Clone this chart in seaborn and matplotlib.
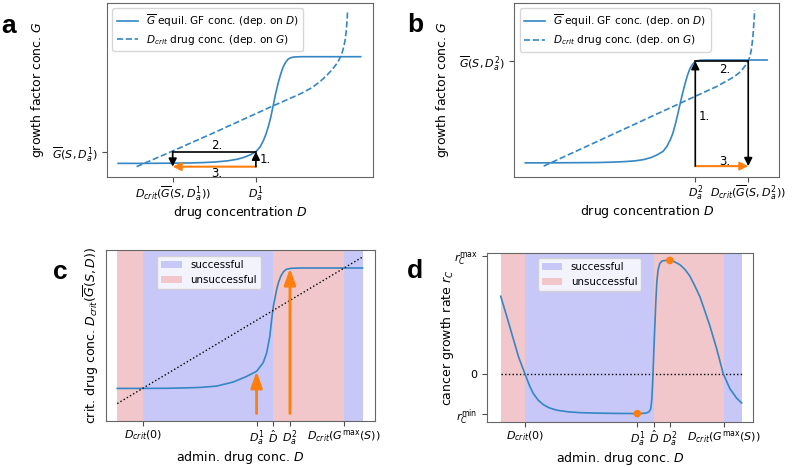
import numpy as np
import pandas as pd
import matplotlib
matplotlib.use("Agg")
import matplotlib.pyplot as plt
import seaborn as sns
from matplotlib.patches import Patch

# ---------------- data ----------------
# panel a : equilibrium GF concentration G(D) and critical drug conc. Dcrit(G)
a_D = [0, 1.0, 2.0, 3.0, 3.5, 4.0, 4.5, 4.9, 5.2, 5.45, 5.68, 5.85, 6.0, 6.1, 6.2,
       6.3, 6.4, 6.5, 6.6, 6.7, 6.8, 6.9, 7.0, 7.1, 7.25, 7.5, 10.0]
a_G = [0.21, 0.21, 0.22, 0.24, 0.26, 0.30, 0.37, 0.47, 0.60, 0.76, 0.96, 1.25, 1.70, 2.10, 2.60,
       3.20, 3.95, 4.70, 5.35, 5.90, 6.35, 6.65, 6.85, 6.95, 7.00, 7.02, 7.02]
a_crit_D = [0.76, 2.25, 4.0, 6.37, 7.5, 8.0, 8.32, 8.6, 8.87, 9.0, 9.1, 9.18, 9.25, 9.31,
            9.36, 9.40, 9.43, 9.45, 9.46]
a_crit_G = [0.0, 1.0, 2.2, 3.87, 4.64, 5.05, 5.43, 5.82, 6.28, 6.55, 6.80, 7.05, 7.35, 7.70,
            8.10, 8.60, 9.15, 9.60, 10.0]
a_Da1 = 5.68
a_G1 = 0.96
a_Dc1 = 2.25

# panel b
b_D = [0, 1.0, 2.0, 3.0, 3.5, 4.0, 4.5, 4.9, 5.2, 5.45, 5.7, 5.85, 6.0, 6.1, 6.2,
       6.3, 6.4, 6.5, 6.6, 6.7, 6.8, 6.9, 7.0, 7.1, 7.25, 7.5, 10.0]
b_G = [0.21, 0.21, 0.22, 0.23, 0.25, 0.28, 0.33, 0.42, 0.55, 0.72, 0.95, 1.25, 1.70, 2.10, 2.65,
       3.30, 3.98, 4.65, 5.25, 5.80, 6.22, 6.50, 6.68, 6.76, 6.80, 6.81, 6.81]
b_crit_D = [0.76, 3.0, 5.0, 6.41, 7.93, 8.62, 8.85, 9.0, 9.12, 9.22, 9.29, 9.34, 9.38, 9.42,
            9.45, 9.47, 9.48]
b_crit_G = [0.0, 1.60, 3.03, 4.04, 5.12, 5.72, 6.0, 6.25, 6.5, 6.75, 7.05, 7.4, 7.85, 8.45,
            9.1, 9.6, 10.0]
b_Da2 = 7.03
b_G2 = 6.74
b_Dc2 = 9.22

# panel c : Dcrit(G(S,D)) versus administered drug concentration
c_D = [0, 2.0, 3.0, 3.37, 4.05, 4.73, 5.27, 5.68, 5.95, 6.09, 6.22, 6.3, 6.36, 6.43, 6.5,
       6.58, 6.67, 6.78, 6.9, 7.1, 7.45, 10.0]
c_crit = [1.03, 1.04, 1.08, 1.10, 1.19, 1.47, 1.85, 2.20, 2.79, 3.45, 4.60, 5.80, 6.60, 7.20, 7.80,
          8.30, 8.70, 9.00, 9.17, 9.23, 9.25, 9.25]
c_diag = [0, 10]
c_edges = [0, 1.06, 6.36, 9.25, 10]
c_xticks = [1.06, 5.68, 6.36, 7.04, 9.25]
c_arrow_x = [5.68, 7.04]
c_arrow_top = [2.2, 9.22]
c_arrow_base = -0.68

# panel d : cancer growth rate
d_D = [0, 0.25, 0.52, 0.75, 1.01, 1.2, 1.35, 1.55, 1.77, 2.0, 2.32, 2.8, 3.29, 4.0, 4.67, 5.64,
       5.9, 6.05, 6.15, 6.22, 6.26, 6.29, 6.33, 6.37, 6.40, 6.44, 6.48, 6.53, 6.6, 6.7, 6.85,
       7.02, 7.2, 7.44, 7.65, 7.85, 8.05, 8.27, 8.48, 8.68, 8.96, 9.24, 9.51, 9.79, 10.0]
d_r = [0.659, 0.49, 0.30, 0.14, 0.0, -0.10, -0.164, -0.22, -0.259, -0.285, -0.306, -0.32, -0.327,
       -0.331, -0.333, -0.335, -0.333, -0.33, -0.32, -0.30, -0.24, -0.15, 0.05, 0.27, 0.42, 0.62,
       0.78, 0.88, 0.935, 0.958, 0.962, 0.962, 0.952, 0.926, 0.885, 0.83, 0.75, 0.654, 0.53,
       0.409, 0.217, 0.0, -0.123, -0.204, -0.245]
d_edges = [0, 1.01, 6.35, 9.27, 10]
d_xticks = [1.01, 5.67, 6.35, 7.02, 9.27]
d_dots_x = [5.67, 7.02]
d_dots_y = [-0.335, 0.962]
d_yticks = [1.0, 0.0, -0.335]
d_yticklabels = [r"$r_C^{\mathrm{max}}$", "0", r"$r_C^{\mathrm{min}}$"]

span_kinds = ["unsuccessful", "successful", "unsuccessful", "successful"]
cd_xticklabels = [r"$D_{crit}(0)$", r"$D_a^1$", r"$\hat{D}$", r"$D_a^2$",
                  r"$D_{crit}(G^{\mathrm{max}}(S))$"]

# ---------------- styling ----------------
BLUE = "#3586c4"
ORANGE = "#ff7f0e"
SPAN = {"successful": "#c8c8f8", "unsuccessful": "#f1c7cb"}
TICK_FS = 8
LAB_FS = 9
LEG_FS_AB = 7.6
LEG_FS_CD = 7.4

plt.rcParams["axes.edgecolor"] = "0.4"
plt.rcParams["xtick.color"] = "0.3"
plt.rcParams["ytick.color"] = "0.3"
plt.rcParams["xtick.labelcolor"] = "black"
plt.rcParams["ytick.labelcolor"] = "black"
plt.rcParams["xtick.major.pad"] = 1.5

fig = plt.figure(figsize=(8, 4.67), dpi=100)
axA = fig.add_axes([0.134, 0.6203, 0.332, 0.374])
axB = fig.add_axes([0.643, 0.6216, 0.331, 0.372])
axC = fig.add_axes([0.1325, 0.0979, 0.336, 0.3668])
axD = fig.add_axes([0.609, 0.0964, 0.3325, 0.3618])


def arrow(ax, x0, y0, x1, y1, color, lw, ms, hl, hw, z=3):
    ax.annotate("", xy=(x1, y1), xytext=(x0, y0),
                arrowprops=dict(arrowstyle=f"-|>,head_length={hl},head_width={hw}",
                                color=color, lw=lw, shrinkA=0, shrinkB=0,
                                mutation_scale=ms), zorder=z)


lbl_G = r"$\overline{G}$ equil. GF conc. (dep. on $D$)"
lbl_C = r"$D_{crit}$ drug conc. (dep. on $G$)"

# ---- panel a
sns.lineplot(x=a_D, y=a_G, ax=axA, color=BLUE, lw=1.2, sort=False, estimator=None, label=lbl_G)
sns.lineplot(x=a_crit_D, y=a_crit_G, ax=axA, color=BLUE, lw=1.2, linestyle="--", sort=False,
             estimator=None, label=lbl_C)
arrow(axA, a_Da1, 0, a_Dc1, 0, ORANGE, 1.5, 8, 0.6, 0.3)
axA.plot([a_Da1, a_Dc1], [a_G1, a_G1], color="k", lw=1.2, zorder=3)
arrow(axA, a_Da1, 0, a_Da1, a_G1, "k", 1.2, 8, 0.6, 0.3, z=4)
arrow(axA, a_Dc1, a_G1, a_Dc1, 0, "k", 1.2, 8, 0.6, 0.3, z=4)
axA.text(5.85, 0.43, "1.", ha="left", va="center", fontsize=8.5)
axA.text(4.06, 1.32, "2.", ha="center", va="center", fontsize=8.5)
axA.text(4.06, -0.43, "3.", ha="center", va="center", fontsize=8.5)
axA.set_xticks([a_Dc1, a_Da1])
axA.set_xticklabels([r"$D_{crit}(\overline{G}(S,D_a^1))$", r"$D_a^1$"], fontsize=TICK_FS)
axA.set_yticks([a_G1])
axA.set_yticklabels([r"$\overline{G}(S,D_a^1)$"], fontsize=TICK_FS)
axA.set_xlim(-0.45, 10.5)
axA.set_ylim(-0.68, 10.47)
axA.legend(loc="upper left", fontsize=LEG_FS_AB, labelspacing=0.4)

# ---- panel b
sns.lineplot(x=b_D, y=b_G, ax=axB, color=BLUE, lw=1.2, sort=False, estimator=None, label=lbl_G)
sns.lineplot(x=b_crit_D, y=b_crit_G, ax=axB, color=BLUE, lw=1.2, linestyle="--", sort=False,
             estimator=None, label=lbl_C)
arrow(axB, b_Da2, 0, b_Dc2, 0, ORANGE, 1.5, 8, 0.6, 0.3)
axB.plot([b_Da2, b_Dc2], [b_G2, b_G2], color="k", lw=1.2, zorder=3)
arrow(axB, b_Da2, 0, b_Da2, b_G2, "k", 1.2, 8, 0.6, 0.3, z=4)
arrow(axB, b_Dc2, b_G2, b_Dc2, 0, "k", 1.2, 8, 0.6, 0.3, z=4)
axB.text(7.17, 3.19, "1.", ha="left", va="center", fontsize=8.5)
axB.text(8.23, 6.23, "2.", ha="center", va="center", fontsize=8.5)
axB.text(8.23, 0.32, "3.", ha="center", va="center", fontsize=8.5)
axB.set_xticks([b_Da2, b_Dc2])
axB.set_xticklabels([r"$D_a^2$", r"$D_{crit}(\overline{G}(S,D_a^2))$"], fontsize=TICK_FS)
axB.set_yticks([b_G2])
axB.set_yticklabels([r"$\overline{G}(S,D_a^2)$"], fontsize=TICK_FS)
axB.set_xlim(-0.45, 10.5)
axB.set_ylim(-0.68, 10.47)
axB.legend(loc="upper left", fontsize=LEG_FS_AB, labelspacing=0.4)

for ax, ylx in ((axA, -0.23), (axB, -0.239)):
    ax.set_xlabel(r"drug concentration $D$", fontsize=LAB_FS)
    ax.set_ylabel(r"growth factor conc. $G$", fontsize=LAB_FS)
    ax.xaxis.set_label_coords(0.5, -0.15)
    ax.yaxis.set_label_coords(ylx, 0.5)

# ---- panel c
for i, kind in enumerate(span_kinds):
    axC.axvspan(c_edges[i], c_edges[i + 1], color=SPAN[kind], lw=0, zorder=0)
sns.lineplot(x=c_D, y=c_crit, ax=axC, color=BLUE, lw=1.2, sort=False, estimator=None)
sns.lineplot(x=c_diag, y=c_diag, ax=axC, color="k", lw=1.0, linestyle=":", sort=False,
             estimator=None)
for x, top in zip(c_arrow_x, c_arrow_top):
    arrow(axC, x, c_arrow_base, x, top, ORANGE, 2.0, 14, 0.7, 0.25)
axC.set_xticks(c_xticks)
axC.set_xticklabels(cd_xticklabels, fontsize=TICK_FS)
axC.set_yticks([])
axC.set_xlim(-0.46, 10.5)
axC.set_ylim(-1.21, 10.48)
axC.set_xlabel(r"admin. drug conc. $D$", fontsize=LAB_FS)
axC.set_ylabel(r"crit. drug conc. $D_{crit}(\overline{G}(S,D))$", fontsize=LAB_FS)
axC.xaxis.set_label_coords(0.5, -0.162)
axC.yaxis.set_label_coords(-0.02, 0.5)

# ---- panel d
for i, kind in enumerate(span_kinds):
    axD.axvspan(d_edges[i], d_edges[i + 1], color=SPAN[kind], lw=0, zorder=0)
sns.lineplot(x=[d_D[0], d_D[-1]], y=[0, 0], ax=axD, color="k", lw=1.0, linestyle=":",
             sort=False, estimator=None)
sns.lineplot(x=d_D, y=d_r, ax=axD, color=BLUE, lw=1.2, sort=False, estimator=None)
sns.scatterplot(x=d_dots_x, y=d_dots_y, ax=axD, color=ORANGE, s=30, edgecolor="none", zorder=5)
axD.set_xticks(d_xticks)
axD.set_xticklabels(cd_xticklabels, fontsize=TICK_FS)
axD.set_yticks(d_yticks)
axD.set_yticklabels(d_yticklabels, fontsize=TICK_FS)
axD.set_xlim(-0.56, 10.48)
axD.set_ylim(-0.406, 1.025)
axD.set_xlabel(r"admin. drug conc. $D$", fontsize=LAB_FS)
axD.set_ylabel(r"cancer growth rate $r_C$", fontsize=LAB_FS)
axD.xaxis.set_label_coords(0.5, -0.163)
axD.yaxis.set_label_coords(-0.118, 0.5)

handles = [Patch(facecolor=SPAN["successful"], label="successful"),
           Patch(facecolor=SPAN["unsuccessful"], label="unsuccessful")]
axC.legend(handles=handles, loc="upper left", bbox_to_anchor=(0.19, 0.966), borderaxespad=0,
           fontsize=LEG_FS_CD)
axD.legend(handles=handles, loc="upper left", bbox_to_anchor=(0.19, 0.971), borderaxespad=0,
           fontsize=LEG_FS_CD)

# panel letters
for x, y, s in [(0.001, 0.930, "a"), (0.509, 0.931, "b"), (0.066, 0.4026, "c"),
                (0.509, 0.4047, "d")]:
    fig.text(x, y, s, fontsize=19, fontweight="bold", family="Liberation Sans",
             ha="left", va="baseline")

fig.savefig("out.png", dpi=100)
